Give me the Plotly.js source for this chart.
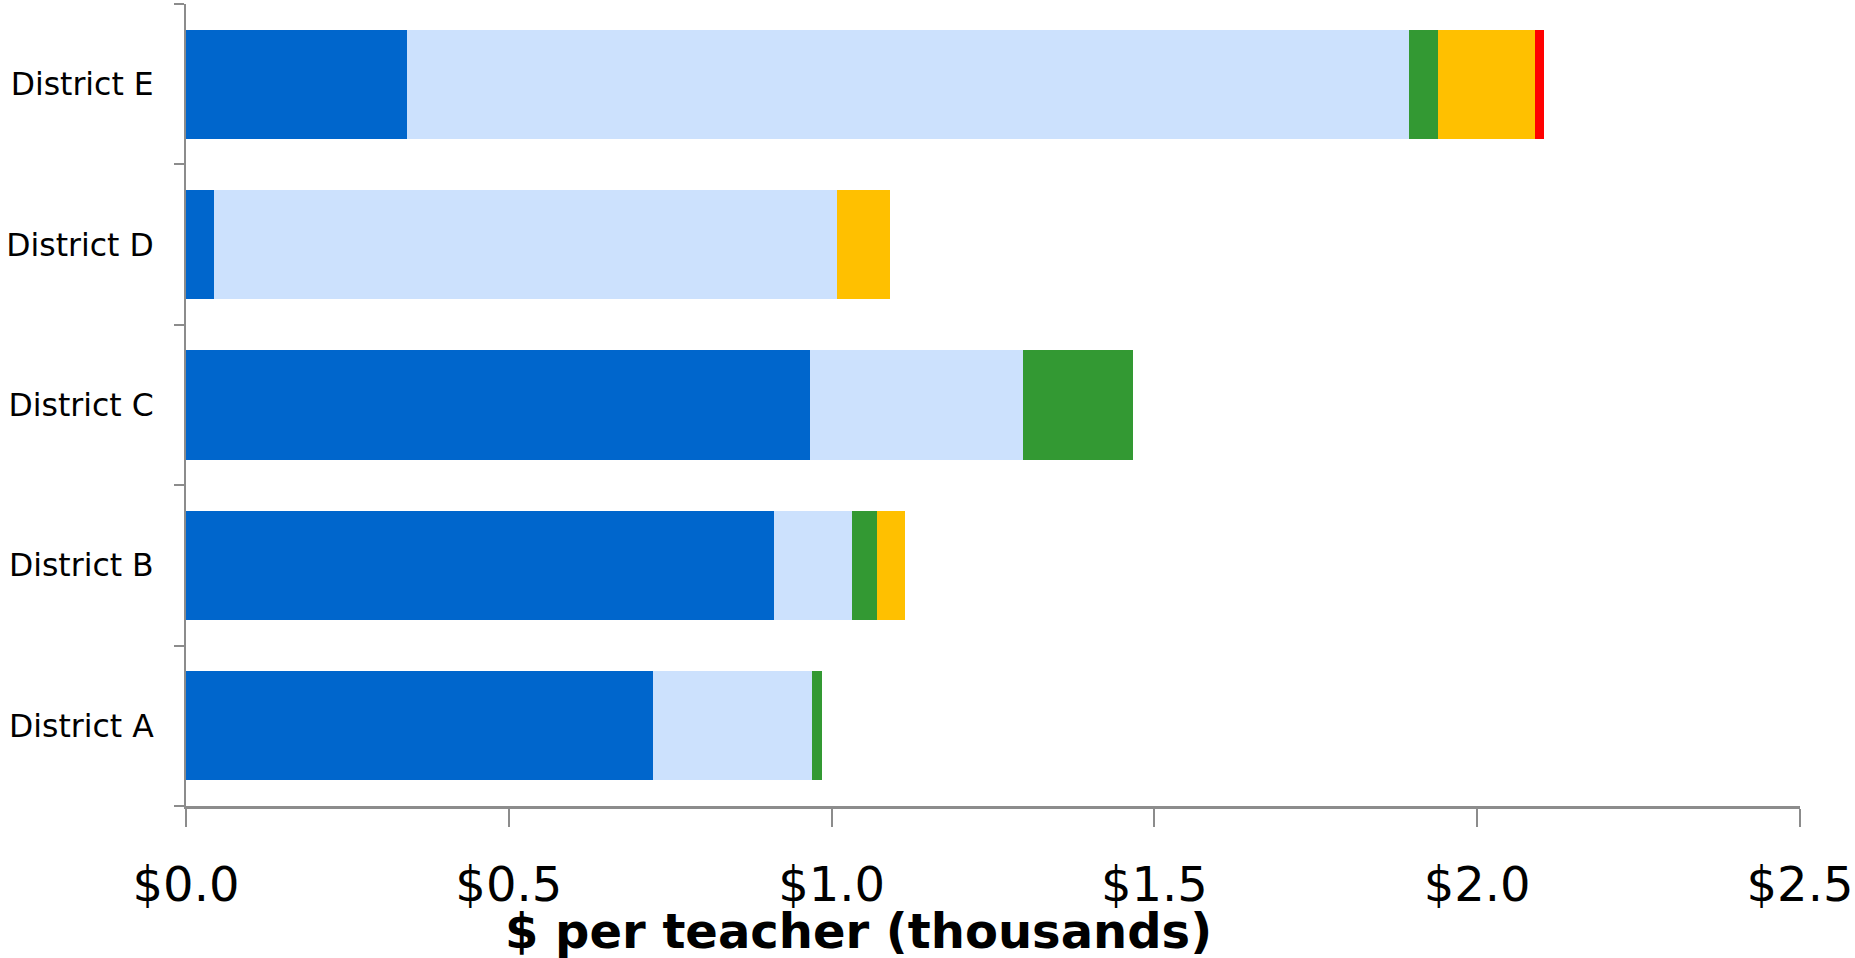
<!DOCTYPE html>
<html>
<head>
<meta charset="utf-8">
<script src="https://cdn.plot.ly/plotly-3.0.1.min.js"></script>
<style>html,body{margin:0;padding:0;background:#fff;}#chart{width:1855px;height:958px;}</style>
</head>
<body>
<div id="chart"></div>
<script>
const categories = ['District A', 'District B', 'District C', 'District D', 'District E'];
const darkBlue  = [0.723, 0.911, 0.966, 0.043, 0.343];
const lightBlue = [0.246, 0.120, 0.330, 0.966, 1.552];
const green     = [0.016, 0.039, 0.171, 0.000, 0.045];
const yellow    = [0.000, 0.044, 0.000, 0.082, 0.150];
const red       = [0.000, 0.000, 0.000, 0.000, 0.014];
const xTicks = [0, 0.5, 1.0, 1.5, 2.0, 2.5];

const colors = ['#0066CC', '#CCE1FD', '#339933', '#FFC000', '#FF0000'];
const series = [darkBlue, lightBlue, green, yellow, red];

const traces = series.map((vals, i) => ({
  type: 'bar',
  orientation: 'h',
  y: categories,
  x: vals,
  marker: {color: colors[i], line: {width: 0}},
  hoverinfo: 'x+y',
  showlegend: false
}));

const font = 'DejaVu Sans, Verdana, sans-serif';
const layout = {
  width: 1855,
  height: 958,
  barmode: 'stack',
  bargap: 0.32,
  paper_bgcolor: '#ffffff',
  plot_bgcolor: '#ffffff',
  margin: {l: 186, r: 55, t: 4, b: 152},
  showlegend: false,
  xaxis: {
    range: [0, 2.5],
    tickvals: xTicks,
    tickformat: '$.1f',
    ticks: 'outside',
    ticklen: 18,
    tickwidth: 2,
    tickcolor: '#8c8c8c',
    showline: true,
    linecolor: '#8c8c8c',
    linewidth: 3,
    showgrid: false,
    zeroline: false,
    ticklabelstandoff: 16,
    tickfont: {family: font, size: 48, color: '#000'}
  },
  yaxis: {
    type: 'category',
    categoryorder: 'array',
    categoryarray: categories,
    ticks: 'outside',
    tickson: 'boundaries',
    ticklen: 10,
    tickwidth: 2,
    tickcolor: '#8c8c8c',
    showline: true,
    linecolor: '#8c8c8c',
    linewidth: 2,
    showgrid: false,
    zeroline: false,
    ticklabelstandoff: 24,
    tickfont: {family: font, size: 31.5, color: '#000'}
  },
  annotations: [
    {
      text: '<b>$ per teacher (thousands)</b>',
      xref: 'paper', yref: 'paper',
      x: 0.4164, y: -0.156,
      xanchor: 'center', yanchor: 'middle',
      showarrow: false,
      font: {family: font, size: 48, color: '#000'}
    },
    {
      text: 'Page 17',
      xref: 'paper', yref: 'paper',
      x: 0.963, y: -0.1845,
      xanchor: 'left', yanchor: 'top',
      showarrow: false,
      font: {family: font, size: 18, color: '#000'}
    }
  ]
};

Plotly.newPlot('chart', traces, layout, {displayModeBar: false, staticPlot: true});
</script>
</body>
</html>
